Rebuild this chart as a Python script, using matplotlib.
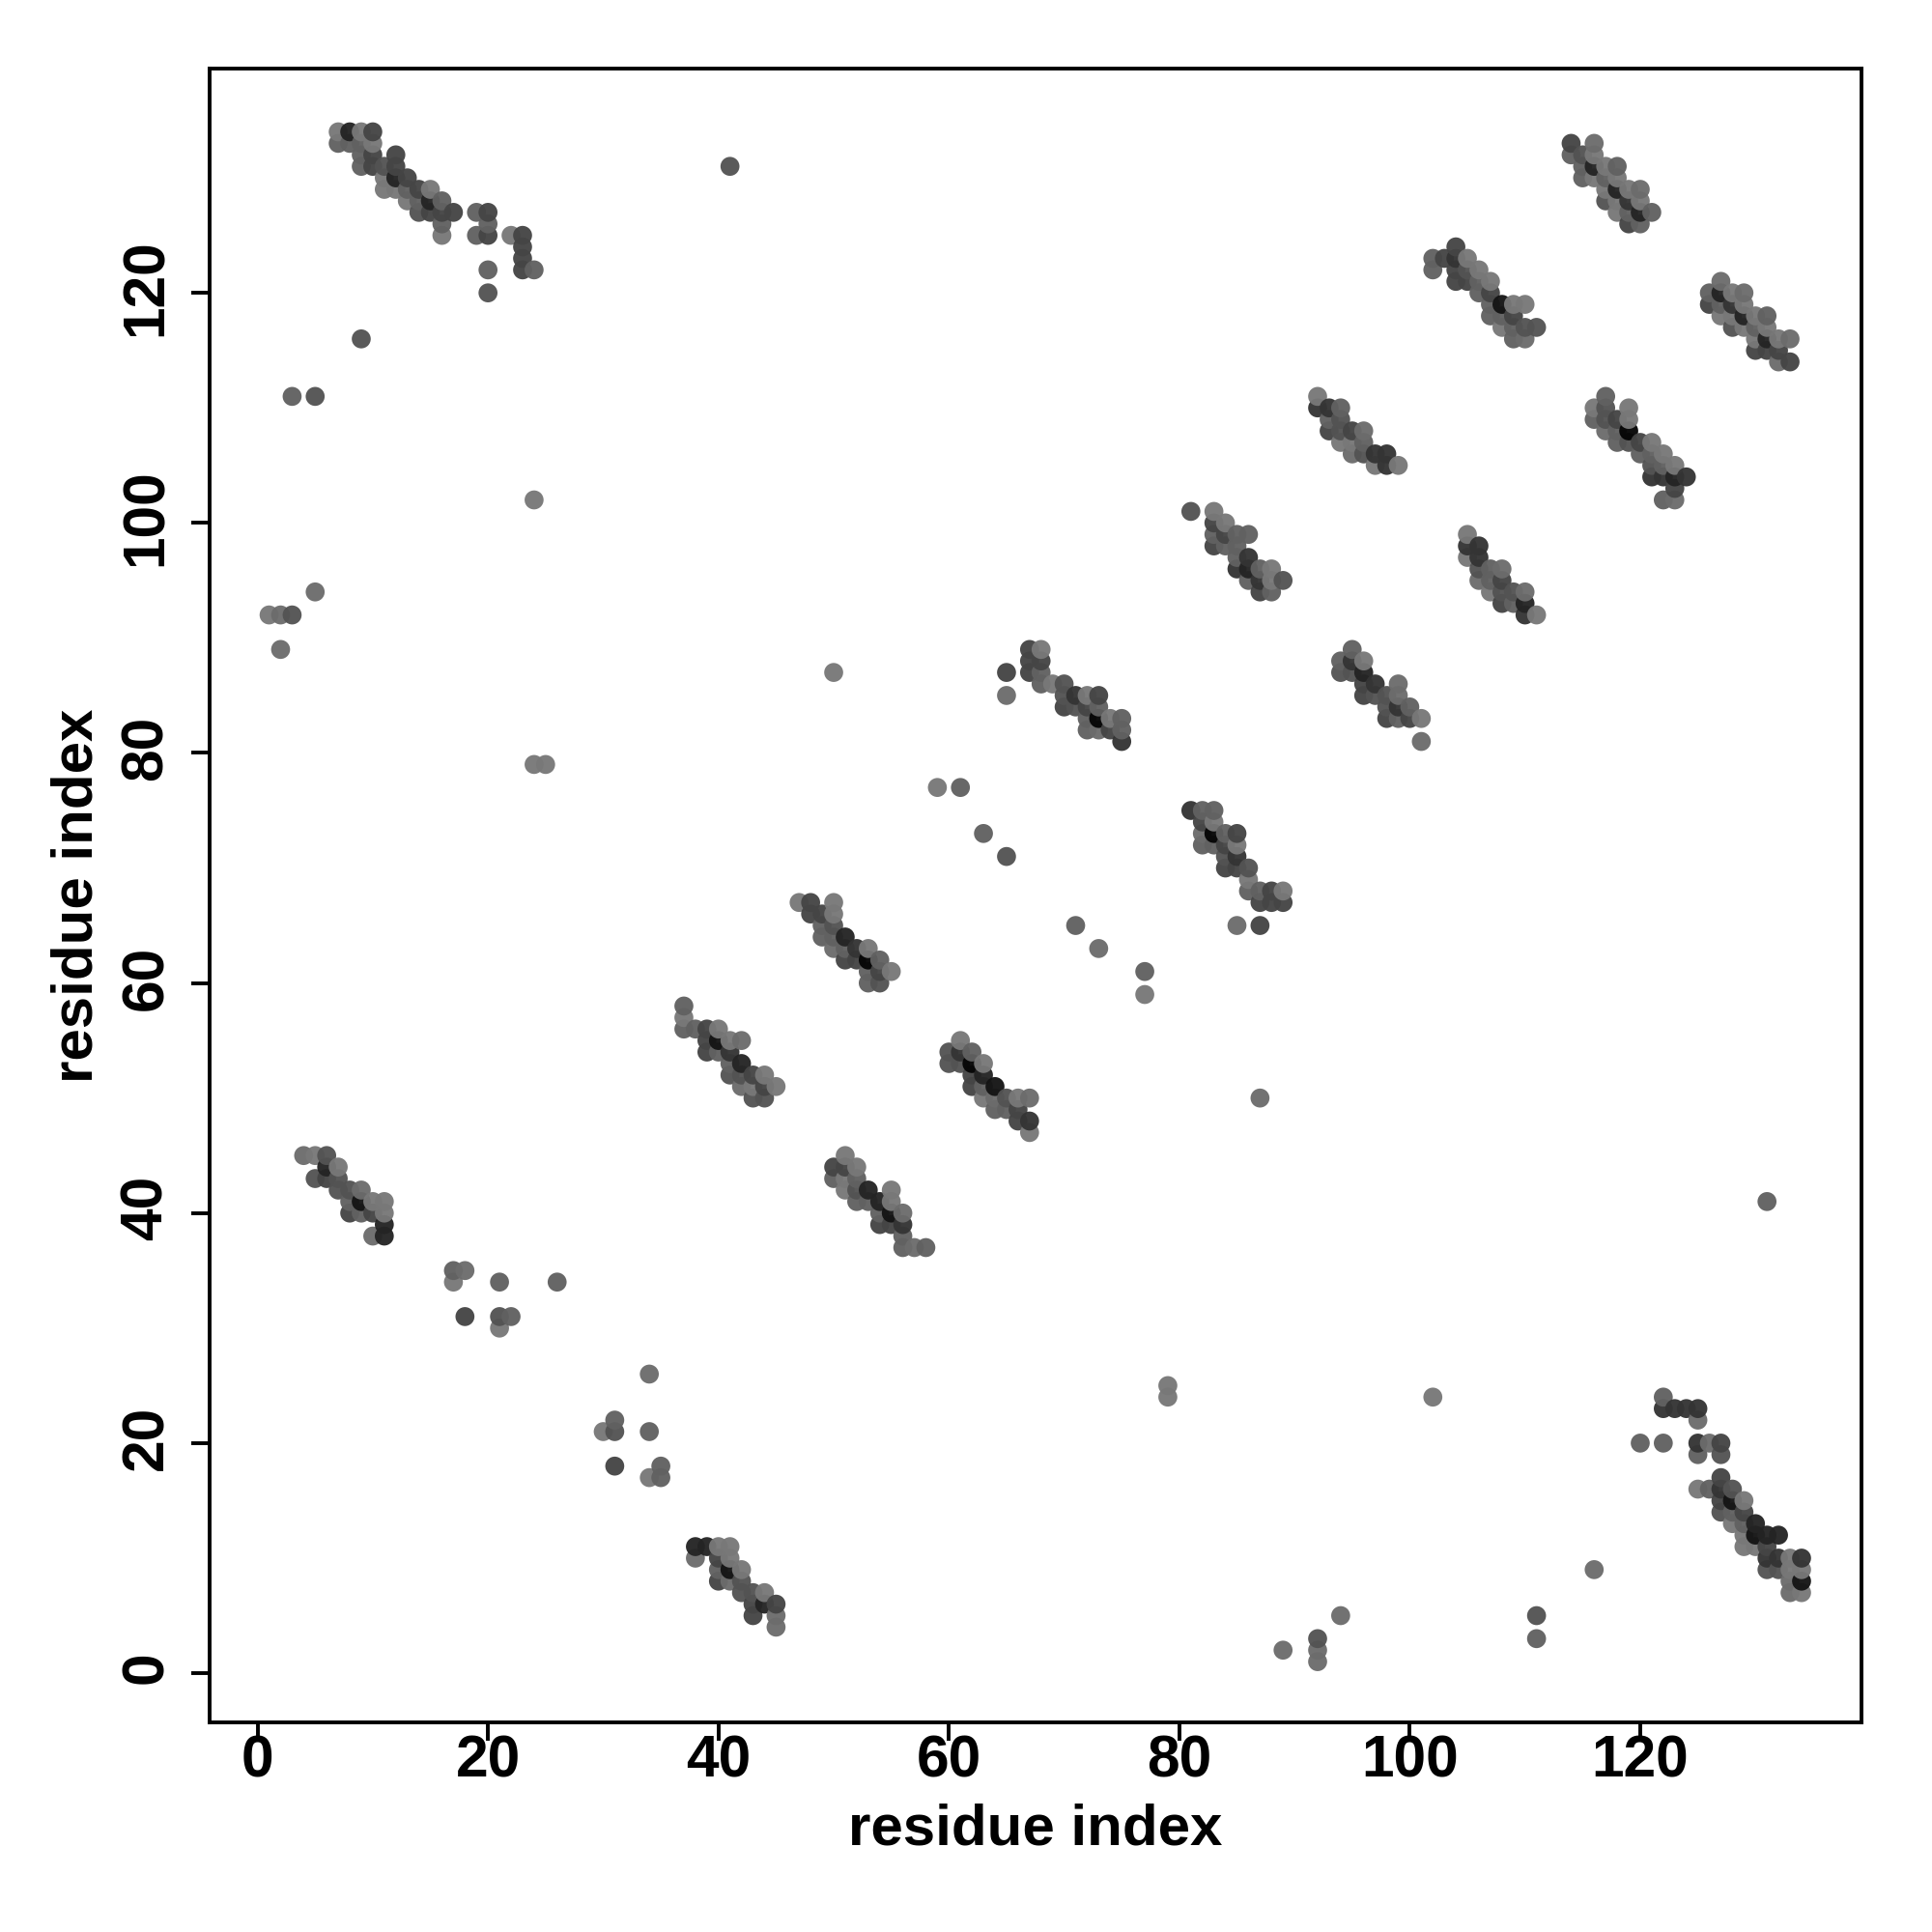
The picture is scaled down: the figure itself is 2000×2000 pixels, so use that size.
# contact map, residue index vs residue index
import numpy as np
import matplotlib
matplotlib.use("Agg")
import matplotlib.pyplot as plt
from matplotlib.transforms import ScaledTranslation

plt.rcParams['font.family'] = ['Liberation Sans', 'DejaVu Sans']

# (i, j, score) score 1 = weak (light) ... 4 = strong (dark)
cluster_a = [(7,134,1),(8,134,4),(9,134,1),(10,134,3),(7,133,2),(8,133,2),(9,133,2),(10,133,1),
             (9,132,2),(10,132,3),(12,132,3),(9,131,2),(10,131,3),(11,131,2.5),(12,131,3),
             (11,130,1),(12,130,4),(13,130,3),(11,129,1),(12,129,1),(13,129,2),(14,129,3),(15,129,1),
             (13,128,1),(14,128,2),(15,128,4),(16,128,2),(14,127,2.5),(15,127,3),(16,127,3),(17,127,3),
             (16,126,2),(16,125,1),(19,127,2),(20,127,3),(20,126,2),(19,125,2),(20,125,3),(22,125,1),
             (23,125,3),(23,124,3),(23,123,3),(23,122,3),(24,122,2),(20,122,2),(20,120,2.5)]
cluster_b = [(114,133,3),(116,133,1.5),(114,132,2),(115,132,2.5),(116,132,1),(115,131,2),(116,131,4),
             (117,131,1),(118,131,2),(115,130,2),(116,130,1),(117,130,2),(118,130,1),(117,129,1),
             (118,129,4),(119,129,1),(120,129,1.5),(117,128,2.5),(118,128,1),(119,128,3.5),(120,128,1),
             (118,127,1),(119,127,2),(120,127,4),(121,127,2),(119,126,3),(120,126,2)]
cluster_c = [(102,123,2),(103,123,3),(104,124,3),(102,122,2),(104,123,3.5),(105,123,1),(106,122,1),
             (104,122,3),(105,122,2.5),(104,121,3),(105,121,3),(106,121,2),(107,121,1),(106,120,2),
             (107,120,3),(107,119,2),(108,119,4.5),(109,119,1),(110,119,1),(107,118,2),(108,118,2),
             (109,118,3),(108,117,1),(109,117,2),(110,117,2.5),(111,117,2.5),(109,116,2),(110,116,1.5)]
cluster_d = [(127,121,1.5),(126,120,2),(127,120,4),(128,120,1),(129,120,1.5),(126,119,3),(127,119,2),
             (128,119,3.5),(129,119,1),(127,118,1),(128,118,1),(129,118,4),(130,118,1),(131,118,2),
             (128,117,2.5),(129,117,1),(130,117,2),(131,117,1),(130,116,1),(131,116,4),(132,116,1),
             (133,116,1.5),(130,115,3),(131,115,3),(132,115,3),(132,114,1.5),(133,114,3)]
cluster_e = [(92,111,1),(92,110,3.5),(93,110,3.5),(94,110,2),(93,109,2),(94,109,2.5),(93,108,3),
             (94,108,2.5),(95,108,3),(96,108,1.5),(94,107,1),(95,107,1),(96,107,2),(95,106,1.5),
             (96,106,2.5),(97,106,3.5),(98,106,3.5),(97,105,1),(98,105,3.5),(99,105,1)]
cluster_f = [(117,111,2),(116,110,1),(117,110,2.5),(119,110,1),(116,109,2),(117,109,2.5),(118,109,3),
             (119,109,1),(117,108,1.5),(118,108,2),(119,108,5),(118,107,2),(119,107,2.5),(120,107,3),
             (121,107,1),(120,106,2),(121,106,2),(122,106,1),(121,105,2.5),(122,105,2),(123,105,1),
             (121,104,3.5),(122,104,3.5),(123,104,4),(124,104,3.5),(123,103,3),(122,102,2),(123,102,1.5)]
cluster_g = [(105,99,1),(105,98,3.5),(106,98,3.5),(105,97,1),(106,97,3.5),(106,96,2.5),(107,96,2),
             (108,96,1.5),(106,95,1.5),(107,95,2),(108,95,3),(107,94,1),(108,94,2.5),(109,94,2.5),
             (110,94,1.5),(108,93,3),(109,93,2),(110,93,4),(110,92,3.5),(111,92,1)]
cluster_h = [(65,87,3),(65,85,1.5),(67,89,3),(68,89,1),(67,88,3),(68,88,3),(67,87,3),(68,87,2),
             (68,86,2),(69,86,1),(70,86,2.5),(70,85,2.5),(71,85,3.5),(72,85,1),(73,85,3),(70,84,3),
             (71,84,2.5),(72,84,3),(73,84,2),(72,83,2),(73,83,5),(74,83,1),(75,83,2),(72,82,2),
             (73,82,1.5),(74,82,3),(75,82,2),(75,81,3.5)]
cluster_i = [(95,89,2),(94,88,2),(95,88,3.5),(96,88,1),(94,87,2.5),(95,87,2.5),(96,87,4),(96,86,3),
             (97,86,3.5),(99,86,1.5),(96,85,3),(97,85,2.5),(98,85,2.5),(99,85,1.5),(98,84,2.5),
             (99,84,3.5),(100,84,2),(98,83,3),(99,83,2),(100,83,3),(101,83,1),(101,81,1.5)]
cluster_j = [(81,75,3.5),(82,75,2),(83,75,2),(82,74,3),(83,74,1),(82,73,1.5),(83,73,5),(84,73,2),
             (85,73,3),(82,72,2),(83,72,2),(84,72,3),(85,72,1),(84,71,2.5),(85,71,3.5),(84,70,3),
             (85,70,3),(86,70,2.5),(86,69,1),(86,68,2),(87,68,2),(88,68,3),(89,68,1),(87,67,3),
             (88,67,3),(89,67,3),(85,65,1.5),(87,65,3),(87,50,1.5)]
cluster_k = [(47,67,1),(48,67,3),(50,67,1),(48,66,3),(49,66,3),(50,66,1),(49,65,2),(50,65,2.5),
             (49,64,2),(50,64,2),(51,64,4),(50,63,1.5),(51,63,2),(52,63,3.5),(53,63,1),(51,62,3),
             (52,62,3),(53,62,5),(54,62,2),(53,61,2),(54,61,3),(55,61,1),(53,60,2),(54,60,2.5)]
cluster_l = [(37,58,2),(37,57,1),(37,56,2),(38,56,2),(39,56,3),(40,56,1),(39,55,3),(40,55,4.5),
             (41,55,1),(42,55,1.5),(39,54,3),(40,54,2),(41,54,3.5),(41,53,2),(42,53,4),(41,52,2.5),
             (42,52,2.5),(43,52,3),(44,52,1),(42,51,1.5),(43,51,1),(44,51,3),(45,51,1),(43,50,2.5),(44,50,2.5)]
cluster_m = [(61,55,1),(60,54,2.5),(61,54,3.5),(62,54,2),(60,53,2.5),(61,53,2.5),(62,53,5),(63,53,1),
             (62,52,3),(63,52,4),(62,51,3),(63,51,2),(64,51,4.5),(63,50,1),(64,50,1.5),(65,50,2.5),
             (66,50,1),(67,50,1.5),(64,49,2),(65,49,2),(66,49,3),(66,48,3),(67,48,3.5),(67,47,1)]
cluster_n = [(51,45,1),(50,44,3),(51,44,3),(52,44,1),(50,43,2),(51,43,1),(52,43,2),(51,42,1),(52,42,2.5),
             (53,42,4),(55,42,1),(52,41,2),(53,41,2),(54,41,4),(55,41,1),(54,40,2),(55,40,4.5),(56,40,1.5),
             (54,39,3),(55,39,3),(56,39,3.5),(56,38,2),(56,37,2),(57,37,1.5),(58,37,2)]
cluster_o = [(4,45,1.5),(5,45,1),(6,45,2.5),(6,44,4),(7,44,1),(5,43,2.5),(6,43,3),(7,43,2.5),(7,42,2.5),
             (8,42,2.5),(9,42,1.5),(8,41,2),(9,41,4.5),(10,41,1),(11,41,1),(8,40,3),(9,40,2),(10,40,3),
             (11,40,1),(11,39,4),(10,38,1.5),(11,38,4)]
cluster_p = [(38,11,4),(39,11,4),(40,11,1),(41,11,1),(38,10,1.5),(40,10,3),(41,10,1),(40,9,2),(41,9,4.5),
             (42,9,1),(40,8,3),(41,8,1.5),(42,8,2.5),(42,7,2.5),(43,7,2.5),(44,7,1),(43,6,3),(44,6,4),
             (45,6,3),(43,5,3),(45,5,1.5),(45,4,1.5)]
cluster_q = [(122,24,2),(122,23,3.5),(123,23,3.5),(124,23,3.5),(125,23,3.5),(125,22,1.5),(120,20,2),
             (122,20,2),(125,20,3.5),(126,20,1.5),(127,20,3),(125,19,2),(127,19,2.5),(127,17,3),
             (125,16,1),(126,16,2),(127,16,3.5),(128,16,2.5),(127,15,3),(128,15,4.5),(129,15,1),
             (127,14,2.5),(128,14,2),(129,14,3),(128,13,1),(129,13,2),(130,13,4),(129,12,1),(130,12,4.5),
             (131,12,4),(132,12,4),(129,11,1),(130,11,1),(131,11,3),(131,10,3.5),(132,10,3.5),(133,10,1),
             (134,10,3.5),(131,9,2.5),(132,9,2.5),(133,9,1),(134,9,1),(133,8,1.5),(134,8,4.5),(133,7,1.5),(134,7,1)]
cluster_r = [(81,101,2.5),(83,101,1),(83,100,3),(84,100,1),(83,99,2),(84,99,3),(85,99,2),(86,99,2),
             (83,98,3),(84,98,2),(85,98,2),(85,97,2),(86,97,3.5),(85,96,3.5),(86,96,4),(87,96,2),(88,96,1),
             (86,95,2),(87,95,3.5),(88,95,1),(89,95,2.5),(87,94,3),(88,94,2)]
isolated = [(41,131,2.5),(9,116,2.5),(3,111,2),(5,111,2.5),(24,102,1),(5,94,1.5),(1,92,1),(2,92,1.5),(3,92,2.5),
            (2,89,1.5),(24,79,1),(25,79,1),(50,87,1),(59,77,1),(61,77,2),(63,73,2),(65,71,2.5),(71,65,2),
            (73,63,1.5),(77,61,2),(77,59,1),(131,41,2),(79,25,1),(79,24,1),(102,24,1),(116,9,1.5),
            (111,5,2.5),(111,3,2),(94,5,1.5),(92,3,2.5),(92,2,1.5),(92,1,1.5),(89,2,1.5),(17,35,2),(18,35,1.5),
            (17,34,1),(21,34,2),(26,34,2),(18,31,3),(21,31,2.5),(22,31,2),(21,30,1),(30,21,1),(31,22,2),
            (31,21,2.5),(34,26,1.5),(34,21,2),(31,18,3),(35,18,2),(34,17,1),(35,17,2)]

tick_vals = [0, 20, 40, 60, 80, 100, 120]

contacts = (cluster_a + cluster_b + cluster_c + cluster_d + cluster_e + cluster_f + cluster_g + cluster_h
            + cluster_i + cluster_j + cluster_k + cluster_l + cluster_m + cluster_n + cluster_o + cluster_p
            + cluster_q + cluster_r + isolated)
contacts = sorted(contacts, key=lambda c: (c[0], c[1]))
xs = np.array([c[0] for c in contacts])
ys = np.array([c[1] for c in contacts])
score = np.array([c[2] for c in contacts])
grey = np.interp(score, [1, 2, 3, 4, 5], [0.47, 0.38, 0.27, 0.14, 0.02])

fig = plt.figure(figsize=(10, 10), dpi=200)
ax = fig.add_axes([217/2000, 1-1783/2000, (1927-217)/2000, (1783-71)/2000])
ax.scatter(xs, ys, s=50, c=[(g, g, g) for g in grey], linewidths=0, alpha=0.96, zorder=3)

ax.set_xlim(-4.16, 139.2)
ax.set_ylim(-4.28, 139.5)
ax.set_xticks(tick_vals)
ax.set_yticks(tick_vals)
ax.tick_params(length=7, width=1.4, labelsize=21.8)
ax.tick_params(axis='x', pad=-2.5)
ax.tick_params(axis='y', pad=6, labelrotation=90)
for lab in ax.get_xticklabels():
    lab.set_fontweight('bold')
# rotated labels sit a bit low, nudge them up
nudge = ScaledTranslation(0, 2/72, fig.dpi_scale_trans)
for lab in ax.get_yticklabels():
    lab.set_fontweight('bold')
    lab.set_verticalalignment('center')
    lab.set_transform(lab.get_transform() + nudge)
for sp in ax.spines.values():
    sp.set_linewidth(1.4)
ax.set_xlabel("residue index", fontsize=21.6, fontweight='bold', labelpad=5)
ax.set_ylabel("residue index", fontsize=21.6, fontweight='bold', labelpad=6)

fig.savefig("out.png", dpi=200)
